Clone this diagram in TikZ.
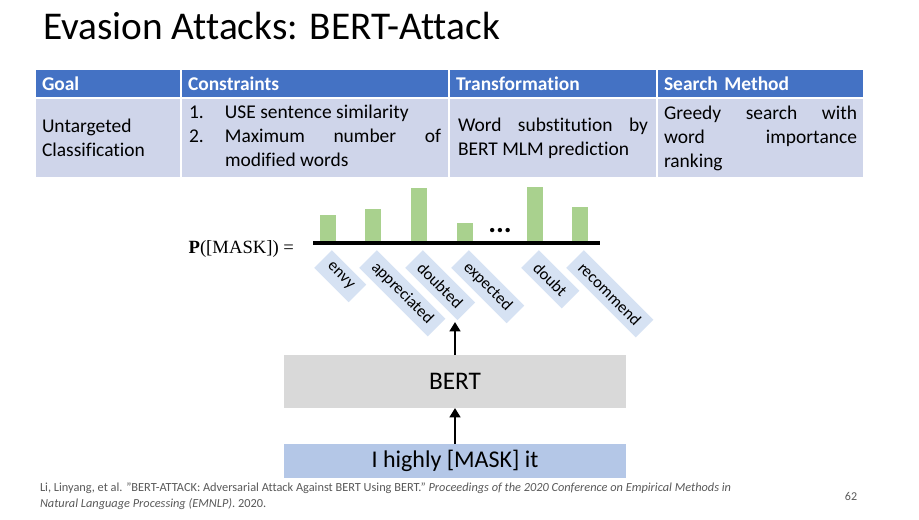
\documentclass[tikz,border=0pt]{standalone}
\usepackage{fontspec}
\setmainfont{Carlito}[Ligatures={TeX,NoCommon}]
\newfontfamily\seriffont{Liberation Serif}
\usepackage{xcolor}
\usetikzlibrary{arrows.meta,positioning}

\definecolor{headblue}{HTML}{4472C4}
\definecolor{bodyblue}{HTML}{CFD5EA}
\definecolor{bargreen}{HTML}{A9D18E}
\definecolor{wordblue}{HTML}{D6E2F3}
\definecolor{bertgray}{HTML}{D9D9D9}
\definecolor{inputblue}{HTML}{B4C7E7}
\definecolor{citegray}{HTML}{595959}

\begin{document}
\begin{tikzpicture}[
  x=0.75pt,y=-0.75pt,
  every node/.style={inner sep=0pt,outer sep=0pt},
  head/.style={draw=white,line width=1pt,fill=headblue,text=white,align=left,
    minimum height=21.75pt,inner xsep=5.25pt,
    font=\fontsize{14.6pt}{18pt}\selectfont\bfseries},
  cell/.style={draw=white,line width=1pt,fill=bodyblue,align=justify,
    minimum height=60pt,inner xsep=5.25pt,
    font={\fontsize{14.6pt}{18pt}\selectfont\hyphenpenalty=10000\tolerance=9999}},
  bar/.style={fill=bargreen},
  word/.style={fill=wordblue,rotate=-45,anchor=west,inner xsep=6.4pt,
    minimum height=18.6pt,font=\fontsize{12.4pt}{14pt}\selectfont},
  block/.style={minimum width=256.5pt},
  arr/.style={-{Triangle[length=7pt,width=8pt]},line width=2.2pt}
]
\fill[white] (0,0) rectangle (919,520);
\useasboundingbox (0,0) rectangle (919,520);

\node[anchor=base west,font=\fontsize{29.5pt}{34pt}\selectfont] (title) at (43,40) {Evasion Attacks: BERT-Attack};

% table
\node[head,text width=99pt,anchor=north west] (hgoal) at (35,69) {Goal};
\node[head,text width=190.5pt,right=0pt of hgoal] (hcons) {Constraints};
\node[head,text width=145.5pt,right=0pt of hcons] (htrans) {Transformation};
\node[head,text width=144.75pt,right=0pt of htrans] (hsearch) {Search Method};
\node[cell,text width=99pt,align=left,below=0pt of hgoal] (goal) {Untargeted\\Classification};
\node[cell,text width=189pt,inner xsep=6pt,below=0pt of hcons] (cons)
  {\begin{tabular}{@{}p{27pt}@{}p{162pt}@{}}
   1. & USE sentence similarity\\
   2. & Maximum number of modified words
   \end{tabular}};
\node[cell,text width=142.5pt,inner xsep=6.75pt,below=0pt of htrans] (trans) {Word substitution by BERT MLM prediction};
\node[cell,text width=144.75pt,below=0pt of hsearch] (search) {Greedy search with word importance ranking};

% distribution
\node[anchor=base east,font=\seriffont\fontsize{14pt}{16pt}\selectfont] (plabel) at (294,253) {\textbf{P}([MASK]) =};
\foreach \x/\t in {328/215,373/209,419/188,465/223,535/187,580/207}
  \fill[bar] (\x-8,\t) rectangle (\x+8,241);
\coordinate (axl) at (313,243);
\coordinate (axr) at (600,243);
\draw[line width=3pt] (axl) -- (axr);
\node[font=\fontsize{22pt}{22pt}\selectfont\bfseries] (dots) at (500,231) {...};
\foreach \x/\w in {328/envy,373/appreciated,419/doubted,465/expected,535/doubt,580/recommend}
  \node[word] (w-\w) at (\x-5,259) {\w};

% model
\node[block,fill=bertgray,minimum height=39.75pt,font=\fontsize{19pt}{22pt}\selectfont] (bert) at (455,381.5) {BERT};
\node[block,fill=inputblue,minimum height=25.5pt,below=27pt of bert,font=\fontsize{18pt}{21pt}\selectfont] (input) {I highly [MASK] it};
\coordinate (tip) at (455,322);
\draw[arr] (input) -- (bert);
\draw[arr] (bert.north) -- (tip);

% reference
\node[anchor=north west,align=left,text=citegray,font=\fontsize{9.25pt}{12pt}\selectfont] (cite) at (40,483)
  {Li, Linyang, et al. "BERT-ATTACK: Adversarial Attack Against BERT Using BERT." \textit{Proceedings of the 2020 Conference on Empirical Methods in}\\
   \textit{Natural Language Processing (EMNLP)}. 2020.};
\node[anchor=base,text=citegray,font=\fontsize{9pt}{11pt}\selectfont] (pgnum) at (851,500) {62};
\end{tikzpicture}
\end{document}
